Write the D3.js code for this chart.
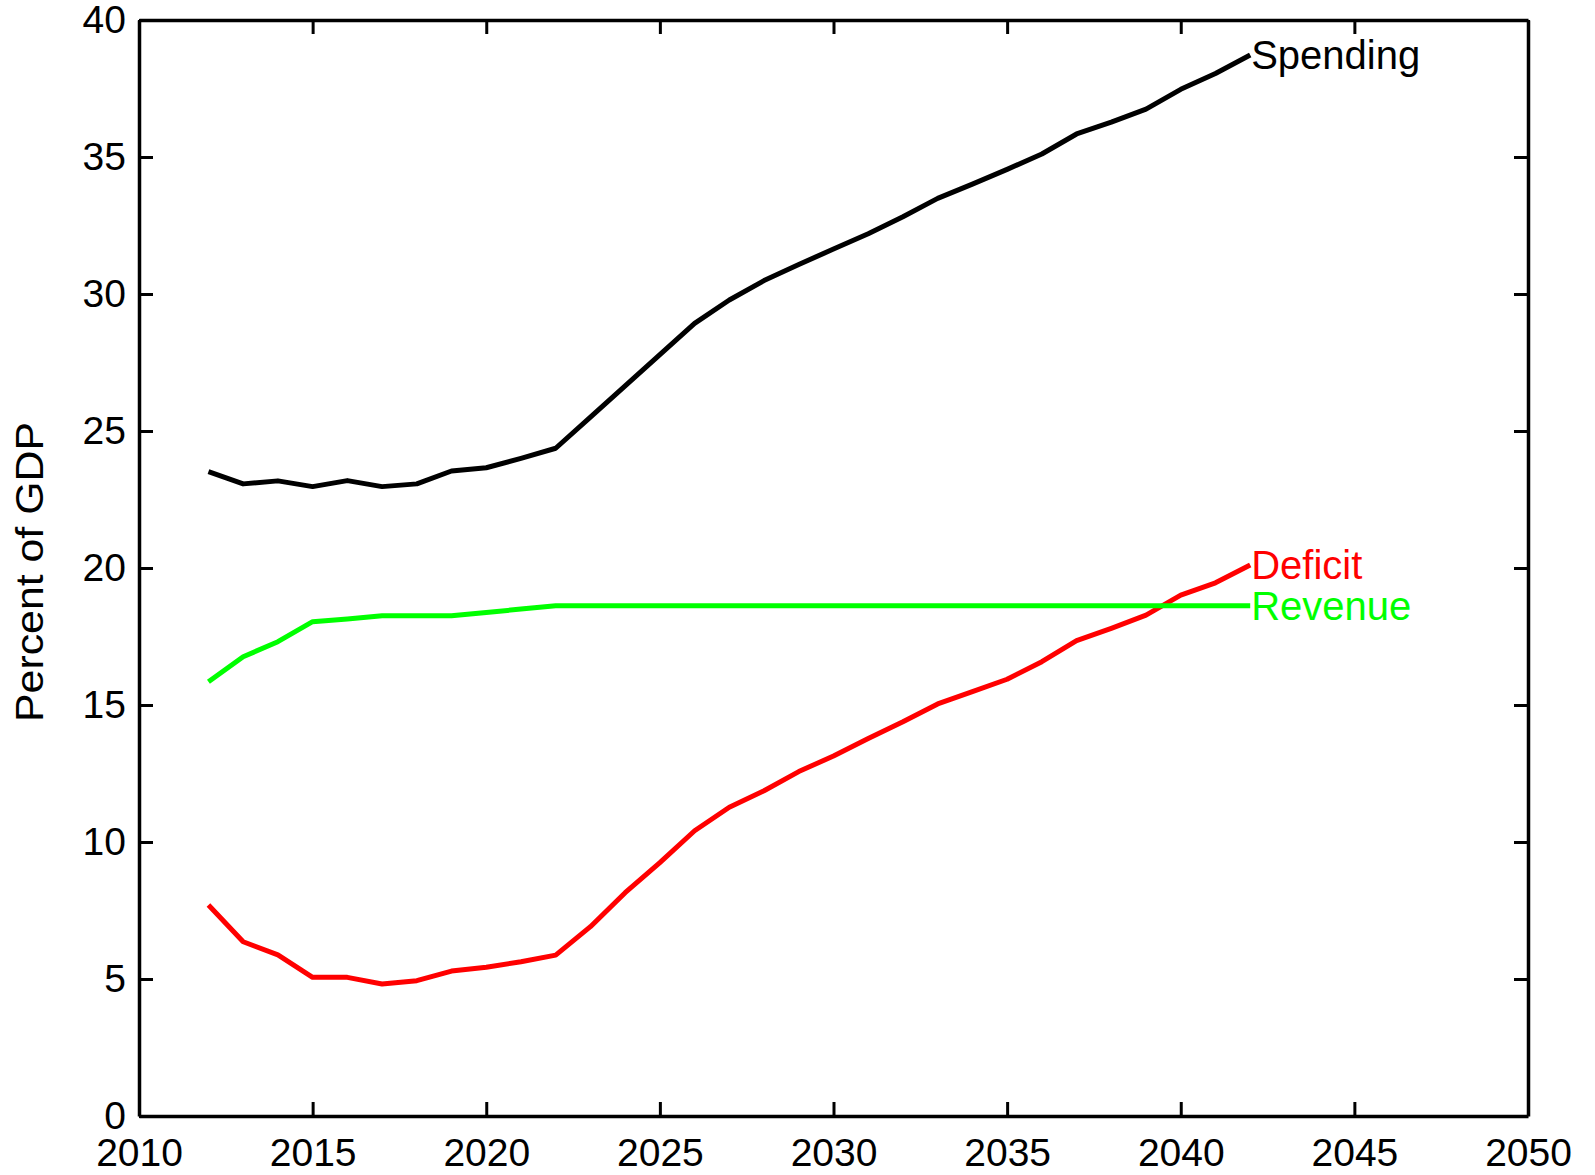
<!DOCTYPE html>
<html>
<head>
<meta charset="utf-8">
<script src="https://cdn.jsdelivr.net/npm/d3@7"></script>
<style>
  body { margin: 0; background: #fff; }
  svg { display: block; font-family: "Liberation Sans", Arial, sans-serif; }
</style>
</head>
<body>
<svg id="chart" width="1595" height="1175"></svg>
<script>
// years 2012..2042
var years = d3.range(2012, 2043);

var spending = [23.52, 23.07, 23.18, 22.97, 23.19, 22.97, 23.07, 23.54, 23.66, 24.0, 24.37,
  25.51, 26.65, 27.79, 28.93, 29.78, 30.49, 31.08, 31.64, 32.2, 32.82,
  33.49, 34.01, 34.55, 35.11, 35.84, 36.27, 36.75, 37.47, 38.05, 38.72];

var revenue = [15.85, 16.76, 17.31, 18.04, 18.14, 18.26, 18.26, 18.26, 18.38, 18.5, 18.62,
  18.62, 18.62, 18.62, 18.62, 18.62, 18.62, 18.62, 18.62, 18.62, 18.62,
  18.62, 18.62, 18.62, 18.62, 18.62, 18.62, 18.62, 18.62, 18.62, 18.62];

var deficit = [7.7, 6.36, 5.88, 5.06, 5.06, 4.82, 4.94, 5.29, 5.43, 5.63, 5.87,
  6.91, 8.15, 9.25, 10.41, 11.27, 11.87, 12.57, 13.14, 13.78, 14.39,
  15.04, 15.49, 15.94, 16.58, 17.35, 17.8, 18.28, 19.01, 19.46, 20.11];

var xTicks = [2010, 2015, 2020, 2025, 2030, 2035, 2040, 2045, 2050];
var yTicks = [0, 5, 10, 15, 20, 25, 30, 35, 40];

var series = [
  { name: "Spending", values: spending, color: "#000000" },
  { name: "Deficit", values: deficit, color: "#ff0000" },
  { name: "Revenue", values: revenue, color: "#00ff00" }
];

var margin = { top: 20, right: 67, bottom: 59, left: 139 };
var width = 1595, height = 1175;
var svg = d3.select("#chart");

var x = d3.scaleLinear()
  .domain([2010, 2050])
  .range([margin.left, width - margin.right]);

var y = d3.scaleLinear()
  .domain([0, 40])
  .range([height - margin.bottom, margin.top]);

var styleAxis = g => {
  g.select(".domain").attr("stroke", "#000").attr("stroke-width", 3.5);
  g.selectAll(".tick line").attr("stroke", "#000").attr("stroke-width", 3);
  g.selectAll(".tick text").attr("fill", "#000").attr("font-size", 39);
  g.attr("font-family", null);
};

// bottom axis with labels
svg.append("g")
  .attr("transform", `translate(0,${height - margin.bottom})`)
  .call(d3.axisBottom(x).tickValues(xTicks).tickFormat(d3.format("d"))
    .tickSizeInner(-14).tickSizeOuter(0).tickPadding(22))
  .call(styleAxis);

// top axis, ticks only
svg.append("g")
  .attr("transform", `translate(0,${margin.top})`)
  .call(d3.axisTop(x).tickValues(xTicks).tickFormat("")
    .tickSizeInner(-14).tickSizeOuter(0))
  .call(styleAxis);

// left axis with labels
svg.append("g")
  .attr("transform", `translate(${margin.left},0)`)
  .call(d3.axisLeft(y).tickValues(yTicks)
    .tickSizeInner(-14).tickSizeOuter(0).tickPadding(13))
  .call(styleAxis);

// right axis, ticks only
svg.append("g")
  .attr("transform", `translate(${width - margin.right},0)`)
  .call(d3.axisRight(y).tickValues(yTicks).tickFormat("")
    .tickSizeInner(-14).tickSizeOuter(0))
  .call(styleAxis);

svg.append("text")
  .attr("transform", `translate(43,572) rotate(-90)`)
  .attr("text-anchor", "middle")
  .attr("font-size", 38)
  .attr("textLength", 300)
  .attr("lengthAdjust", "spacingAndGlyphs")
  .text("Percent of GDP");

var line = d3.line()
  .x((d, i) => x(years[i]))
  .y(d => y(d));

svg.selectAll(".series")
  .data(series)
  .join("path")
  .attr("class", "series")
  .attr("fill", "none")
  .attr("stroke", d => d.color)
  .attr("stroke-width", 5)
  .attr("stroke-linejoin", "round")
  .attr("d", d => line(d.values));

svg.selectAll(".label")
  .data(series)
  .join("text")
  .attr("class", "label")
  .attr("x", x(years[years.length - 1]) + 1)
  .attr("y", d => y(d.values[d.values.length - 1]))
  .attr("dy", "0.35em")
  .attr("font-size", 40)
  .attr("fill", d => d.color)
  .text(d => d.name);
</script>
</body>
</html>
